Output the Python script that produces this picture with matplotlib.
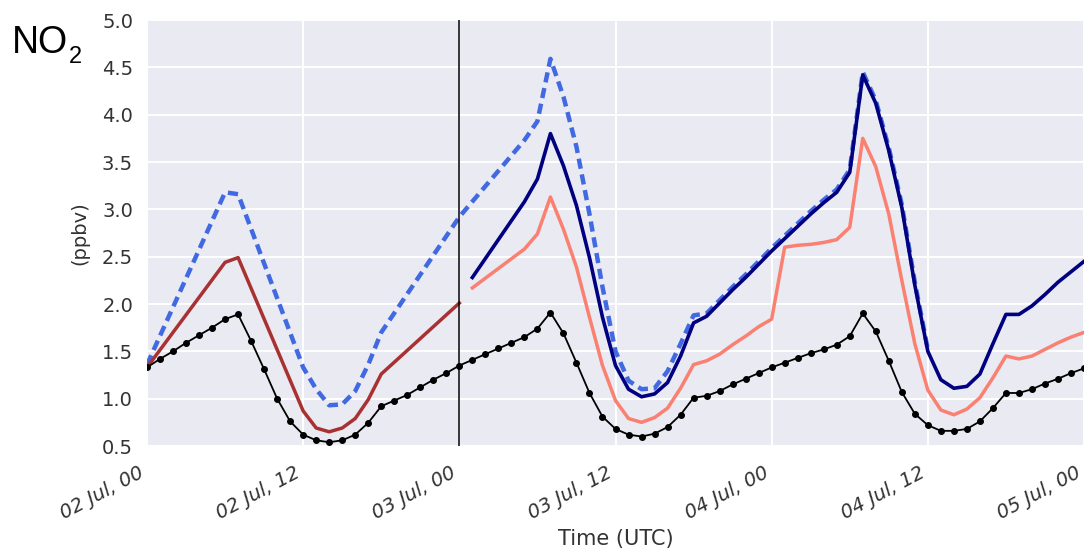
import numpy as np
import pandas as pd
import matplotlib
matplotlib.use("Agg")
import matplotlib.pyplot as plt
import matplotlib.dates as mdates
import matplotlib.ticker as mticker

plt.rcParams['font.family'] = ['DejaVu Sans']

start = pd.Timestamp("2016-07-02 00:00")

# --- data (hours since 02 Jul 00 UTC) ---
obs_hours = list(range(0, 73))
obs_vals = [1.33, 1.42, 1.50, 1.59, 1.67, 1.75, 1.84, 1.89, 1.61, 1.31, 1.00, 0.76, 0.62,
            0.56, 0.54, 0.56, 0.62, 0.745, 0.92, 0.98, 1.04, 1.12, 1.20, 1.27, 1.35,
            1.41, 1.47, 1.53, 1.59, 1.65, 1.74, 1.91, 1.69, 1.38, 1.06, 0.81, 0.68,
            0.62, 0.60, 0.63, 0.70, 0.83, 1.01, 1.03, 1.08, 1.15, 1.21, 1.27, 1.33,
            1.38, 1.43, 1.48, 1.52, 1.57, 1.66, 1.90, 1.71, 1.40, 1.07, 0.84, 0.72,
            0.66, 0.66, 0.68, 0.76, 0.90, 1.06, 1.06, 1.10, 1.16, 1.21, 1.27, 1.32]

red_hours = [0, 6, 7, 12, 13, 14, 15, 16, 17, 18, 24]
red_vals = [1.33, 2.44, 2.49, 0.87, 0.69, 0.65, 0.69, 0.79, 0.99, 1.26, 2.01]

dash_hours = [0, 6, 7, 12, 13, 14, 15, 16, 17, 18, 24, 29, 30, 31, 32, 33, 34, 35, 36, 37,
              38, 39, 40, 41, 42, 43, 44, 45, 46, 47, 48, 49, 50, 51, 52, 53, 54, 55,
              56, 57, 58, 59, 60]
dash_vals = [1.36, 3.18, 3.16, 1.33, 1.10, 0.93, 0.94, 1.08, 1.36, 1.70, 2.92, 3.73, 3.93,
             4.59, 4.19, 3.66, 2.95, 2.18, 1.50, 1.19, 1.10, 1.11, 1.29, 1.58, 1.88, 1.90,
             2.04, 2.18, 2.31, 2.45, 2.59, 2.72, 2.85, 2.98, 3.10, 3.21, 3.42, 4.45, 4.15,
             3.65, 3.05, 2.23, 1.52]

navy_hours = [25, 29, 30, 31, 32, 33, 34, 35, 36, 37, 38, 39, 40, 41, 42, 43, 44, 45, 46,
              47, 48, 49, 50, 51, 52, 53, 54, 55, 56, 57, 58, 59, 60, 61, 62, 63, 64, 65,
              66, 67, 68, 69, 70, 71, 72]
navy_vals = [2.28, 3.08, 3.32, 3.80, 3.46, 3.04, 2.49, 1.86, 1.35, 1.10, 1.02, 1.05, 1.17,
             1.45, 1.80, 1.87, 2.01, 2.15, 2.28, 2.42, 2.56, 2.69, 2.82, 2.95, 3.07, 3.18,
             3.39, 4.42, 4.12, 3.62, 3.02, 2.20, 1.50, 1.20, 1.11, 1.13, 1.26, 1.58, 1.89,
             1.89, 1.98, 2.10, 2.23, 2.34, 2.45]

pink_hours = [25, 29, 30, 31, 32, 33, 34, 35, 36, 37, 38, 39, 40, 41, 42, 43, 44, 45, 46,
              47, 48, 49, 50, 51, 52, 53, 54, 55, 56, 57, 58, 59, 60, 61, 62, 63, 64, 65,
              66, 67, 68, 69, 70, 71, 72]
pink_vals = [2.17, 2.58, 2.74, 3.13, 2.79, 2.39, 1.86, 1.35, 0.98, 0.79, 0.75, 0.80, 0.90,
             1.11, 1.36, 1.40, 1.47, 1.57, 1.66, 1.76, 1.84, 2.60, 2.62, 2.63, 2.65, 2.68,
             2.81, 3.75, 3.45, 2.95, 2.25, 1.58, 1.09, 0.88, 0.83, 0.89, 1.01, 1.22, 1.45,
             1.42, 1.45, 1.52, 1.59, 1.65, 1.70]

split_hour = 24
y_ticks = [0.5, 1.0, 1.5, 2.0, 2.5, 3.0, 3.5, 4.0, 4.5, 5.0]


def t(hours):
    return start + pd.to_timedelta(hours, unit="h")


fig = plt.figure(figsize=(10.84, 5.52), dpi=100)
ax = fig.add_axes([147 / 1084, 1 - 446 / 552, 1 - 147 / 1084, (446 - 20) / 552])
ax.set_facecolor("#EAEAF2")
for s in ax.spines.values():
    s.set_visible(False)
ax.grid(True, color="white", linewidth=1.4)
ax.set_axisbelow(True)

ax.plot(t(dash_hours), dash_vals, color="#4169E1", lw=3.2, dashes=(2.3, 1.3), zorder=3)
ax.plot(t(red_hours), red_vals, color="#A83232", lw=2.5, zorder=4)
ax.plot(t(pink_hours), pink_vals, color="#FA8072", lw=2.5, zorder=4)
ax.plot(t(navy_hours), navy_vals, color="#000080", lw=2.6, zorder=5)
ax.plot(t(obs_hours), obs_vals, color="black", lw=1.3, marker="o", ms=4, zorder=6)
ax.axvline(t(split_hour), color="black", lw=1.1, zorder=7)

ax.set_xlim(t(0), t(72))
ax.set_ylim(0.5, 5.0)
ax.set_yticks(y_ticks)
ax.yaxis.set_major_formatter(mticker.FormatStrFormatter("%.1f"))
ax.xaxis.set_major_locator(mdates.HourLocator(byhour=[0, 12]))
ax.xaxis.set_major_formatter(mdates.DateFormatter("%d %b, %H"))
ax.tick_params(axis="both", length=0, labelsize=14, colors="#333333")
ax.tick_params(axis="y", pad=10)
ax.tick_params(axis="x", pad=12)
for lab in ax.get_xticklabels():
    lab.set_rotation(28)
    lab.set_ha("right")
    lab.set_style("italic")

ax.set_xlabel("Time (UTC)", fontsize=15, color="#333333")
ax.xaxis.set_label_coords(0.5, -0.195)
ax.set_ylabel("(ppbv)", fontsize=14, color="#333333")
ax.yaxis.set_label_coords(-0.062, 0.5)

fig.text(12 / 1084, 1 - 53 / 552, "NO", fontsize=27, color="black", va="baseline",
         ha="left", family="Liberation Sans")
fig.text(69 / 1084, 1 - 63 / 552, "2", fontsize=17, color="black", va="baseline",
         ha="left", family="Liberation Sans")

fig.savefig("out.png", dpi=100)
